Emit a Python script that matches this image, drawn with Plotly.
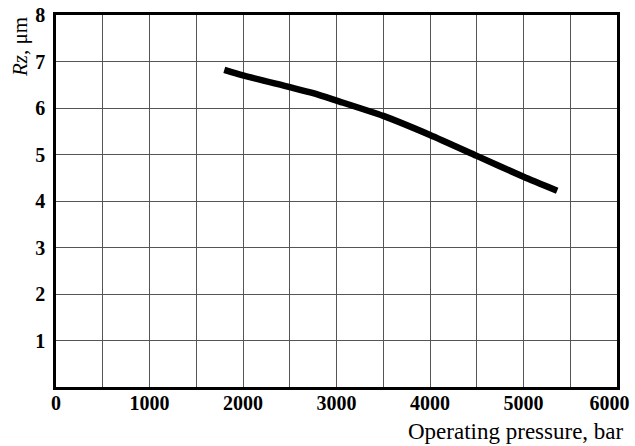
import plotly.graph_objects as go

pressure = [1800, 2000, 2500, 2750, 3000, 3500, 4000, 4500, 5000, 5360]
rz = [6.82, 6.70, 6.45, 6.32, 6.16, 5.83, 5.42, 4.97, 4.52, 4.22]
x_ticks = [0, 1000, 2000, 3000, 4000, 5000, 6000]
y_ticks = [1, 2, 3, 4, 5, 6, 7, 8]

x_text = [f"<b>{v}</b>" for v in x_ticks]
x_text[-1] = x_text[-1] + "\u00a0\u00a0\u00a0"

fig = go.Figure()
fig.add_trace(go.Scatter(x=pressure, y=rz, mode="lines", line=dict(color="black", width=6.5, shape="spline", smoothing=0.6),
                         showlegend=False, hoverinfo="skip"))

fig.update_layout(
    width=635, height=446,
    margin=dict(l=56, r=18, t=15, b=59),
    paper_bgcolor="white", plot_bgcolor="white",
    font=dict(family="Liberation Serif", color="black"),
    xaxis=dict(range=[0, 6000], tickvals=x_ticks, ticktext=x_text,
               tickfont=dict(size=20), showgrid=True, gridcolor="#555", gridwidth=1,
               minor=dict(dtick=500, showgrid=True, gridcolor="#555", gridwidth=1),
               showline=True, linecolor="black", linewidth=2.5, mirror=True, ticks="", zeroline=False,
               automargin=False, ticklabelstandoff=-4, ticklabeloverflow="allow"),
    yaxis=dict(range=[0, 8], tickvals=y_ticks, ticktext=[f"<b>{v}</b>" for v in y_ticks],
               tickfont=dict(size=20), showgrid=True, gridcolor="#555", gridwidth=1,
               showline=True, linecolor="black", linewidth=2.5, mirror=True, ticks="", zeroline=False,
               ticklabelstandoff=4, automargin=False, ticklabeloverflow="allow"),
    annotations=[
        dict(text="<i>Rz</i>, μm", x=0, xref="paper", xshift=-36, y=1, yref="paper", yanchor="top",
             yshift=0, xanchor="center", textangle=-90, showarrow=False, font=dict(size=21)),
        dict(text="Operating pressure, bar", x=1, xref="paper", xanchor="right", xshift=9,
             y=0, yref="paper", yanchor="top", yshift=-30, showarrow=False, font=dict(size=23)),
    ],
)
fig.write_html("out.html", config={"displayModeBar": False},
               post_script="document.body.style.margin='0px';document.body.style.overflow='hidden';")
